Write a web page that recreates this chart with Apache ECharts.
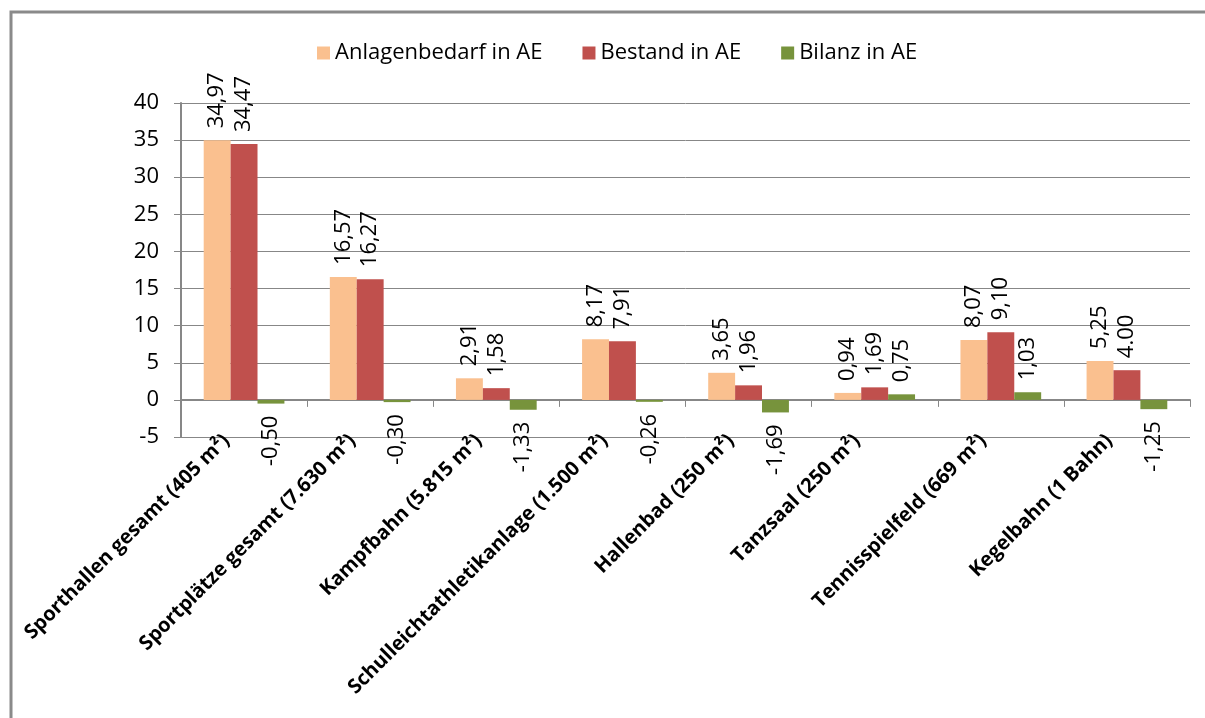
<!DOCTYPE html>
<html>
<head>
<meta charset="utf-8">
<script src="https://cdn.jsdelivr.net/npm/echarts@6/dist/echarts.min.js"></script>
<style>
html,body{margin:0;padding:0;background:#fff;}
#chart{width:1205px;height:718px;}
</style>
</head>
<body>
<div id="chart"></div>
<script>
// ---- data ----
const categories = [
  'Sporthallen gesamt (405 m²)',
  'Sportplätze gesamt (7.630 m²)',
  'Kampfbahn (5.815 m²)',
  'Schulleichtathletikanlage (1.500 m²)',
  'Hallenbad (250 m²)',
  'Tanzsaal (250 m²)',
  'Tennisspielfeld (669 m²)',
  'Kegelbahn (1 Bahn)'
];
const seriesNames = ['Anlagenbedarf in AE', 'Bestand in AE', 'Bilanz in AE'];
const anlagenbedarf = [34.97, 16.57, 2.91, 8.17, 3.65, 0.94, 8.07, 5.25];
const bestand = [34.47, 16.27, 1.58, 7.91, 1.96, 1.69, 9.10, 4.00];
const bilanz = [-0.50, -0.30, -1.33, -0.26, -1.69, 0.75, 1.03, -1.25];
// label text as printed in the original (one label uses a point)
const bestandLabelText = ['34,47', '16,27', '1,58', '7,91', '1,96', '1,69', '9,10', '4.00'];
const yTicks = { min: -5, max: 40, interval: 5 };

// ---- styling ----
const FONT = '"Open Sans", Lato, sans-serif';
const colors = ['#FAC08F', '#C0504D', '#77933C'];
const gray = '#878787';

function fmt(v) { return v.toFixed(2).replace('.', ','); }

function makeData(values, texts) {
  return values.map((v, i) => {
    const txt = texts ? texts[i] : fmt(v);
    if (v < 0) {
      return { value: v, label: { position: 'bottom', align: 'right', verticalAlign: 'middle', formatter: txt } };
    }
    return { value: v, label: { position: 'top', align: 'left', verticalAlign: 'middle', formatter: txt } };
  });
}

const valueSets = [anlagenbedarf, bestand, bilanz];
const textSets = [null, bestandLabelText, null];

const series = seriesNames.map((name, k) => ({
  name: name,
  type: 'bar',
  barGap: '0%',
  barCategoryGap: '36%',
  itemStyle: { color: colors[k] },
  label: {
    show: true,
    rotate: 90,
    distance: 12,
    color: '#000',
    fontFamily: FONT,
    fontSize: 22
  },
  data: makeData(valueSets[k], textSets[k])
}));

const chart = echarts.init(document.getElementById('chart'), null, { renderer: 'canvas' });
chart.setOption({
  animation: false,
  backgroundColor: '#fff',
  color: colors,
  graphic: [{
    type: 'rect',
    shape: { x: 11, y: 12, width: 1400, height: 900 },
    style: { fill: 'none', stroke: '#8a8a8a', lineWidth: 3 },
    silent: true
  }],
  legend: {
    data: seriesNames,
    left: 312,
    top: 37,
    icon: 'rect',
    itemWidth: 13,
    itemHeight: 13,
    itemGap: 40,
    textStyle: { fontFamily: FONT, fontSize: 22, color: '#000' }
  },
  grid: { left: 181, right: 15, top: 103, bottom: 281, containLabel: false, outerBoundsMode: 'none' },
  xAxis: {
    type: 'category',
    data: categories,
    axisLine: { onZero: true, lineStyle: { color: gray, width: 2 } },
    axisTick: { show: true, length: 7, alignWithLabel: false, lineStyle: { color: gray } },
    axisLabel: {
      interval: 0,
      rotate: 45,
      margin: -17,
      padding: [0, 25, 0, 0],
      fontFamily: FONT,
      fontWeight: 'bold',
      fontSize: 20,
      color: '#000'
    },
    splitLine: { show: false }
  },
  yAxis: {
    type: 'value',
    min: yTicks.min,
    max: yTicks.max,
    interval: yTicks.interval,
    axisLine: { show: true, lineStyle: { color: gray, width: 2 } },
    axisTick: { show: true, length: 7, lineStyle: { color: gray } },
    axisLabel: { margin: 22, fontFamily: FONT, fontSize: 22, color: '#000' },
    splitLine: { show: true, lineStyle: { color: gray, width: 1 } }
  },
  series: series
});
</script>
</body>
</html>
